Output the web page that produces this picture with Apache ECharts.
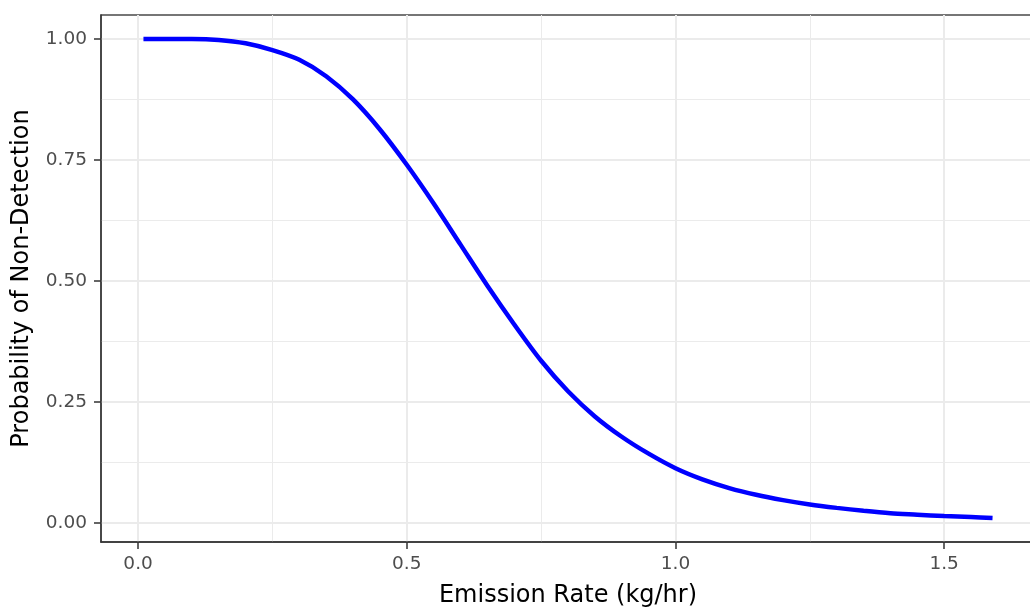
<!DOCTYPE html>
<html>
<head>
<meta charset="utf-8">
<script src="https://cdn.jsdelivr.net/npm/echarts@6/dist/echarts.min.js"></script>
<style>
  html, body { margin: 0; padding: 0; background: #ffffff; }
  #chart { width: 1030px; height: 610px; }
</style>
</head>
<body>
<div id="chart"></div>
<script>
// ---- data ----
const emissionRate = [0.01, 0.05, 0.10, 0.15, 0.20, 0.25, 0.30, 0.35, 0.40, 0.45, 0.50, 0.55, 0.60, 0.65, 0.70, 0.75, 0.80, 0.85, 0.90, 0.95, 1.00, 1.05, 1.10, 1.15, 1.20, 1.25, 1.30, 1.35, 1.40, 1.45, 1.50, 1.55, 1.59];
const probNonDetection = [1.000, 1.000, 1.000, 0.998, 0.991, 0.977, 0.957, 0.923, 0.875, 0.813, 0.740, 0.660, 0.575, 0.490, 0.410, 0.335, 0.272, 0.220, 0.178, 0.143, 0.113, 0.090, 0.072, 0.058, 0.047, 0.038, 0.031, 0.025, 0.020, 0.017, 0.014, 0.012, 0.010];

const xTickValues = [0, 0.5, 1.0, 1.5];
const xMinorValues = [0.25, 0.75, 1.25];
const yTickValues = [0, 0.25, 0.5, 0.75, 1.0];
const yMinorValues = [0.125, 0.375, 0.625, 0.875];

const xTitle = 'Emission Rate (kg/hr)';
const yTitle = 'Probability of Non-Detection';

// ---- chart ----
const xMin = -0.069, xMax = 1.669;
const yMin = -0.0395, yMax = 1.0495;
const FONT = 'DejaVu Sans';
const tickColor = '#4D4D4D';
const gridColor = '#EBEBEB';

const chart = echarts.init(document.getElementById('chart'), null, { renderer: 'canvas' });

const option = {
  animation: false,
  backgroundColor: '#ffffff',
  grid: {
    left: 101, top: 15, width: 934, bottom: 68,
    outerBoundsMode: 'none', containLabel: false,
    show: true, borderColor: '#4a4a4a', borderWidth: 1.3, backgroundColor: 'transparent'
  },
  xAxis: [
    {
      type: 'value', min: xMin, max: xMax, position: 'bottom',
      name: xTitle, nameLocation: 'middle', nameGap: 42,
      nameTextStyle: { fontFamily: FONT, fontSize: 24, color: '#000000' },
      axisLine: { show: true, onZero: false, lineStyle: { color: '#333333', width: 1.5 } },
      axisTick: { show: true, length: 7, customValues: xTickValues, lineStyle: { color: '#333333', width: 1.5 } },
      axisLabel: { show: true, customValues: xTickValues, margin: 13, fontFamily: FONT, fontSize: 18.5, color: tickColor,
        formatter: v => v.toFixed(1) },
      splitLine: { show: true, lineStyle: { color: gridColor, width: 2 } }
    },
    {
      type: 'value', min: xMin, max: xMax, position: 'bottom',
      axisLine: { show: false },
      axisTick: { show: false, customValues: xMinorValues },
      axisLabel: { show: false, customValues: xMinorValues },
      splitLine: { show: true, lineStyle: { color: gridColor, width: 1 } }
    }
  ],
  yAxis: [
    {
      type: 'value', min: yMin, max: yMax, position: 'left',
      name: yTitle, nameLocation: 'middle', nameGap: 67,
      nameTextStyle: { fontFamily: FONT, fontSize: 24, color: '#000000' },
      axisLine: { show: true, onZero: false, lineStyle: { color: '#333333', width: 1.5 } },
      axisTick: { show: true, length: 7, customValues: yTickValues, lineStyle: { color: '#333333', width: 1.5 } },
      axisLabel: { show: true, customValues: yTickValues, margin: 14, fontFamily: FONT, fontSize: 18.5, color: tickColor,
        formatter: v => v.toFixed(2) },
      splitLine: { show: true, lineStyle: { color: gridColor, width: 2 } }
    },
    {
      type: 'value', min: yMin, max: yMax, position: 'left',
      axisLine: { show: false },
      axisTick: { show: false, customValues: yMinorValues },
      axisLabel: { show: false, customValues: yMinorValues },
      splitLine: { show: true, lineStyle: { color: gridColor, width: 1 } }
    }
  ],
  series: [
    {
      type: 'line',
      xAxisIndex: 0, yAxisIndex: 0,
      data: emissionRate.map((x, i) => [x, probNonDetection[i]]),
      showSymbol: false,
      smooth: 0.3,
      lineStyle: { color: '#0000FF', width: 4.5 },
      itemStyle: { color: '#0000FF' },
      z: 5
    }
  ]
};
chart.setOption(option);
</script>
</body>
</html>
